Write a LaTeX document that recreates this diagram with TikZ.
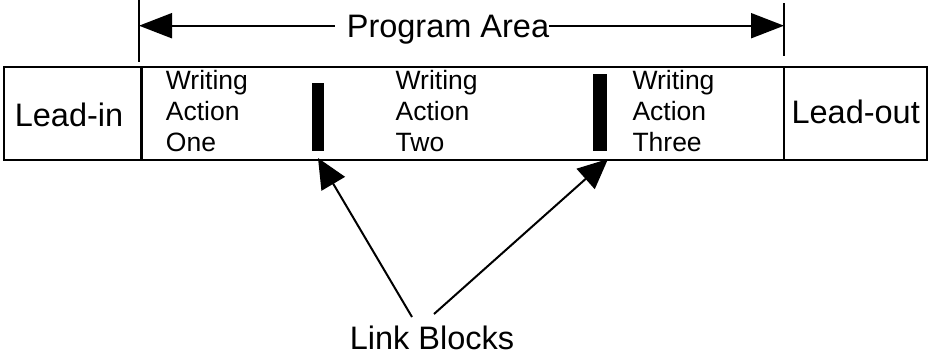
\documentclass[tikz,border=0pt]{standalone}
\usepackage{fontspec}
\setmainfont{Liberation Sans}
\usetikzlibrary{arrows.meta}
\begin{document}
\begin{tikzpicture}[x=1pt,y=-1pt,
  big/.style={font=\fontsize{32.5}{38}\selectfont, inner sep=0pt},
  small/.style={font=\fontsize{26.5}{31}\selectfont, inner sep=0pt, align=left},
  bar/.style={fill=black, draw=none, inner sep=0pt},
  frame/.style={line width=2.4pt},
  tick/.style={line width=2pt},
  dimarrow/.style={line width=2pt, -{Triangle[length=33pt,width=25pt]}},
  linkarrow/.style={line width=2pt, -{Triangle[length=30pt,width=27pt]}}]
\useasboundingbox (0,0) rectangle (928,356);
% track
\node[draw, frame, minimum width=923pt, minimum height=93pt, inner sep=0pt, anchor=north west] (track) at (3,66) {};
\draw[frame] (141.5,66) -- (141.5,159);
\draw[frame] (784,66) -- (784,159);
% ticks
\coordinate (lt) at (139,25.7);
\coordinate (rt) at (784,25.7);
\draw[tick] (139,0) -- (139,62);
\draw[tick] (784,3) -- (784,56);
% program area
\node[big, anchor=base] (pa) at (448,37.7) {Program Area};
\draw[dimarrow, shorten <=12pt] (lt -| pa.west) -- (lt);
\draw[dimarrow] (rt -| pa.east) -- (rt);
% labels
\node[big, anchor=base] (leadin) at (69,126) {Lead-in};
\node[big, anchor=base] (leadout) at (855.7,123.5) {Lead-out};
\node[small, anchor=base west] (w1) at (165.7,151.5) {Writing\\Action\\One};
\node[small, anchor=base west] (w2) at (395.5,151.5) {Writing\\Action\\Two};
\node[small, anchor=base west] (w3) at (632.3,151.5) {Writing\\Action\\Three};
% link blocks
\node[bar, minimum width=12.3pt, minimum height=67.4pt] (lb1) at (317.8,117) {};
\node[bar, minimum width=14pt, minimum height=76.7pt] (lb2) at (600.3,112.4) {};
\coordinate (t1) at (318,158);
\coordinate (t2) at (608,159);
\node[big, anchor=base] (lbl) at (432,349.3) {Link Blocks};
\coordinate (s1) at (412,317);
\coordinate (s2) at (434,314);
\draw[linkarrow] (s1) -- (t1);
\draw[linkarrow] (s2) -- (t2);
\end{tikzpicture}
\end{document}
